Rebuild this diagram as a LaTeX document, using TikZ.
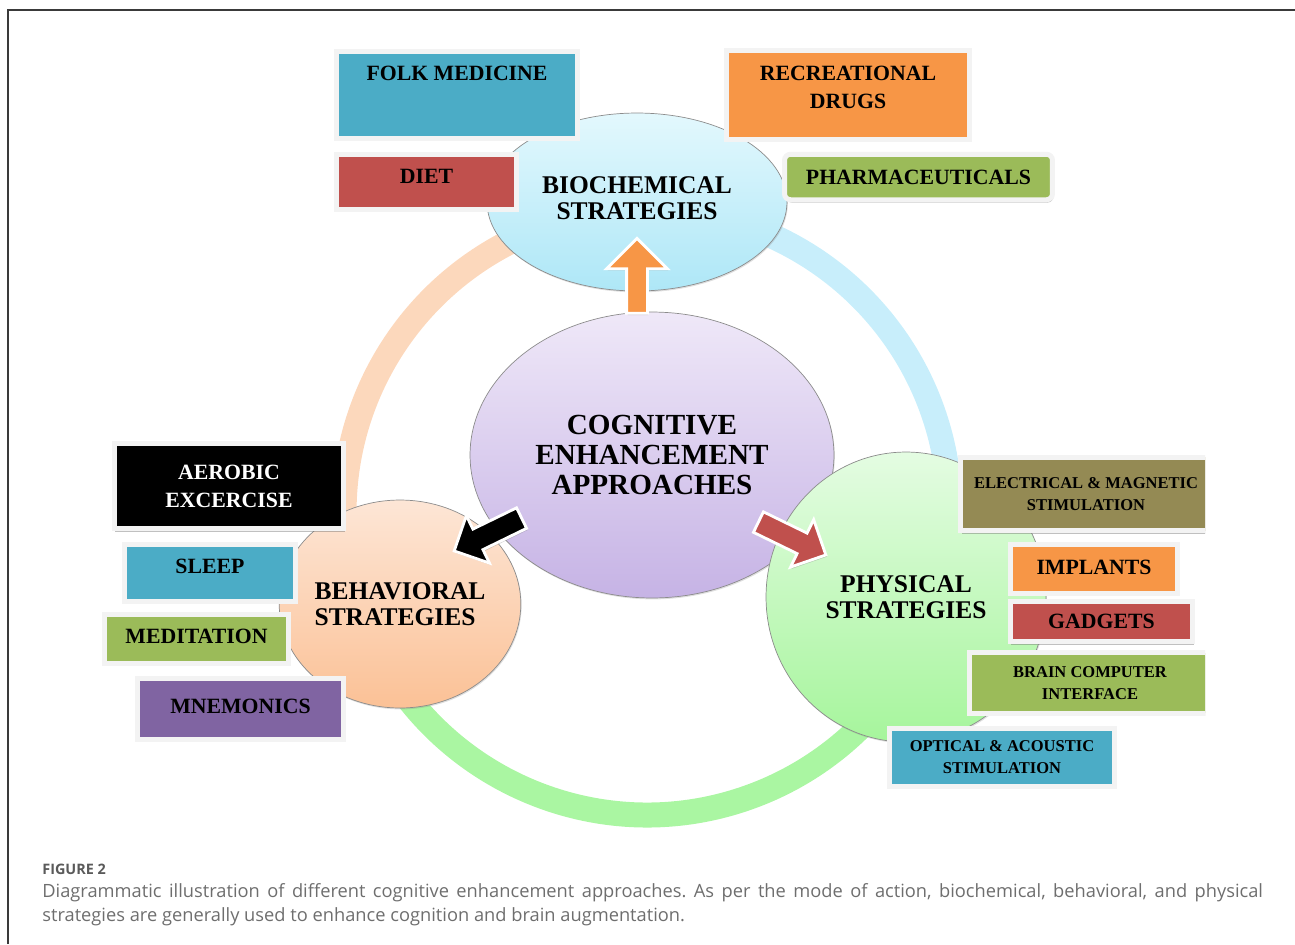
\documentclass[tikz,border=0pt]{standalone}
\usepackage{fontspec}
\setmainfont{Liberation Serif}
\newfontfamily\capfont{Open Sans}
\usetikzlibrary{positioning,shapes.geometric,shapes.arrows,shadows}

\definecolor{bluebox}{HTML}{4BACC6}
\definecolor{redbox}{HTML}{C0504D}
\definecolor{orangebox}{HTML}{F79646}
\definecolor{greenbox}{HTML}{9BBB59}
\definecolor{purplebox}{HTML}{8064A2}
\definecolor{olivebox}{HTML}{948A54}
\definecolor{rimgray}{HTML}{F3F3F3}
\definecolor{ringpeach}{HTML}{FCD8BC}
\definecolor{ringblue}{HTML}{C8EEFB}
\definecolor{ringgreen}{HTML}{AAF6A2}
\definecolor{cogtop}{HTML}{EFE8F8}
\definecolor{cogbot}{HTML}{C6B3E5}
\definecolor{biotop}{HTML}{E3F8FD}
\definecolor{biobot}{HTML}{AEE7F7}
\definecolor{behtop}{HTML}{FDE6D6}
\definecolor{behbot}{HTML}{FBC196}
\definecolor{phytop}{HTML}{E4FCE2}
\definecolor{phybot}{HTML}{A6F59C}
\definecolor{framegray}{HTML}{3A3A3A}
\definecolor{figgray}{HTML}{5A5A5A}
\definecolor{capgray}{HTML}{6E6E6E}

\tikzset{
    %Define style for the coloured boxes
    box/.style={
           rectangle,
           draw=rimgray, line width=0.1cm,
           inner sep=0pt, outer sep=0pt,
           align=center,
           font=\bfseries\fontsize{12.4}{16}\selectfont,
           drop shadow={shadow xshift=0.6pt, shadow yshift=-1.6pt,
                        opacity=0.45, fill=black!55}},
    smallbox/.style={
           box,
           font=\bfseries\fontsize{9.4}{12.5}\selectfont},
    % push the text up inside a box
    lift/.style={text depth=#1},
    %Define style for the strategy bubbles
    bubble/.style={
           ellipse,
           draw=black!45, thin,
           inner sep=0pt,
           align=center,
           font=\bfseries\fontsize{14.5}{14.8}\selectfont,
           drop shadow={shadow xshift=0.5pt, shadow yshift=-0.8pt,
                        opacity=0.25}},
    % Define ring style
    ring/.style={line width=0.5cm},
    % Define block arrow style
    blockarrow/.style={
           single arrow,
           draw=white, line width=1.6pt,
           inner sep=0.2cm,
           single arrow head extend=0.3cm,
           minimum height=1.5cm,
           drop shadow={shadow xshift=0.6pt, shadow yshift=-1pt,
                        opacity=0.35}}
}

\begin{document}
\begin{tikzpicture}[x=0.02cm, y=-0.02cm]
 \useasboundingbox (0,0) rectangle (1295,944);
 %frame
    \draw[framegray, line width=0.04cm] (8,944) -- (8,10) -- (1295,10);
 %ring
    \coordinate (hub) at (647,512);
    \draw[ring, draw=ringpeach] ([shift={(90:6.06cm)}]hub) arc[start angle=90, end angle=201, radius=6.06cm];
    \draw[ring, draw=ringblue] ([shift={(-19:6.06cm)}]hub) arc[start angle=-19, end angle=90, radius=6.06cm];
    \draw[ring, draw=ringgreen] ([shift={(201:6.06cm)}]hub) arc[start angle=201, end angle=341, radius=6.06cm];
 %bubbles
    \node[bubble, minimum width=7.28cm, minimum height=5.72cm, top color=cogtop, bottom color=cogbot,
          font=\bfseries\fontsize{16.6}{17}\selectfont] (cog) at (652,455) {COGNITIVE\\ENHANCEMENT\\APPROACHES};
    \node[bubble, minimum width=6cm, minimum height=3.56cm, top color=biotop, bottom color=biobot,
          lift=4.6pt] (bio) at (637,202) {BIOCHEMICAL\\STRATEGIES};
    \node[bubble, minimum width=4.8cm, minimum height=4.16cm, top color=behtop, bottom color=behbot,
          align=left] (beh) at (400,604) {BEHAVIORAL\\STRATEGIES};
    \node[bubble, minimum width=5.6cm, minimum height=5.8cm, top color=phytop, bottom color=phybot]
          (phy) at (906,597) {PHYSICAL\\STRATEGIES};
 %biochemical boxes
    \node[box, fill=bluebox, minimum width=4.84cm, minimum height=1.74cm, lift=25pt] (folk) at (457,95) {FOLK MEDICINE};
    \node[box, fill=redbox, minimum width=3.62cm, minimum height=1.1cm, lift=6.8pt,
          below=0.32cm of folk.south west, anchor=north west] (diet) {DIET};
    \node[box, fill=orangebox, minimum width=4.86cm, minimum height=1.78cm, lift=9.2pt] (recre) at (848,95) {RECREATIONAL\\DRUGS};
    \node[box, fill=greenbox, rounded corners=0.12cm, minimum width=5.36cm, minimum height=0.91cm] (pharma) at (918.5,177) {PHARMACEUTICALS};
 %behavioral boxes
    \node[box, fill=black, text=white, minimum width=4.6cm, minimum height=1.71cm] (aerobic) at (229,486) {AEROBIC\\EXCERCISE};
    \node[box, fill=bluebox, minimum width=3.42cm, minimum height=1.14cm, lift=8pt] (sleep) at (210,573) {SLEEP};
    \node[box, fill=greenbox, minimum width=3.7cm, minimum height=0.98cm, lift=3.4pt] (medit) at (196.5,639) {MEDITATION};
    \node[box, fill=purplebox, minimum width=4.14cm, minimum height=1.21cm, lift=3.4pt] (mnemo) at (240.5,709) {MNEMONICS};
 %physical boxes
    \begin{scope}
    \clip (0,0) rectangle (1205,944);
    \node[smallbox, fill=olivebox, minimum width=5.02cm, minimum height=1.47cm] (elec) at (1086,494) {ELECTRICAL \& MAGNETIC\\STIMULATION};
    \node[smallbox, fill=greenbox, minimum width=4.82cm, minimum height=1.21cm] (bci) at (1090,683) {BRAIN COMPUTER\\INTERFACE};
    \end{scope}
    \node[box, fill=orangebox, minimum width=3.35cm, minimum height=0.97cm, lift=2.3pt] (implants) at (1094,569) {IMPLANTS};
    \node[box, fill=redbox, minimum width=3.65cm, minimum height=0.81cm,
          below=0.16cm of implants.south west, anchor=north west] (gadgets) {GADGETS};
    \node[smallbox, fill=bluebox, minimum width=4.51cm, minimum height=1.16cm] (optical) at (1002,757.5) {OPTICAL \& ACOUSTIC\\STIMULATION};
 %block arrows
    \node[blockarrow, fill=orangebox, rotate=90, inner sep=0.18cm, single arrow head extend=0.4cm] (uparrow) at (637,281) {};
    \node[blockarrow, fill=black, rotate=206] (leftarrow) at (493,532) {};
    \node[blockarrow, fill=redbox, rotate=-26] (rightarrow) at (787,536) {};
 %caption
    \node[anchor=base west, inner sep=0pt, text=figgray, font=\capfont\bfseries\fontsize{8.2}{9}\selectfont] (figlabel) at (42,874) {FIGURE 2};
    \node[anchor=base west, inner sep=0pt, text width=24.42cm, align=justify, text=capgray,
          font=\capfont\fontsize{10.4}{13.7}\selectfont] (caption) at (42,897)
          {\frenchspacing Diagrammatic illustration of different cognitive enhancement approaches. As per the mode of action, biochemical, behavioral, and physical\linebreak strategies are generally used to enhance cognition and brain augmentation.};
\end{tikzpicture}
\end{document}
